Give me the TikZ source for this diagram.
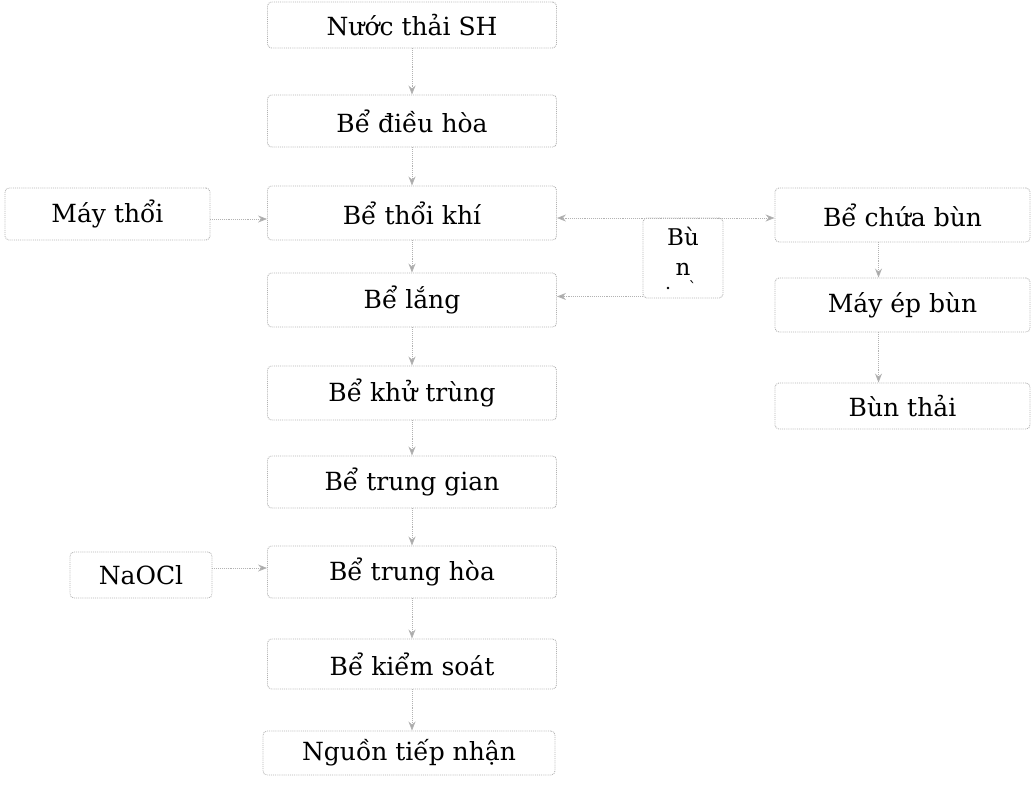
\documentclass[tikz,border=0pt]{standalone}
\usepackage{fontspec}
\setmainfont{DejaVu Serif}
\usetikzlibrary{arrows.meta}
\begin{document}
\begin{tikzpicture}[x=1pt,y=-1pt,
  box/.style={draw=gray!60, densely dotted, line width=0.9pt, rounded corners=4pt,
    inner sep=0pt, text=black, font=\fontsize{25}{30}\selectfont},
  mainbox/.style={box, minimum width=289pt},
  sidebox/.style={box, minimum width=255pt},
  arr/.style={draw=gray!60, densely dotted, line width=0.9pt,
    -{Stealth[length=9pt,width=7pt,fill=gray!70]}},
  barr/.style={draw=gray!60, densely dotted, line width=0.9pt,
    {Stealth[length=9pt,width=7pt,fill=gray!70]}-{Stealth[length=9pt,width=7pt,fill=gray!70]}}
]
\useasboundingbox (0,0) rectangle (1035,787);
% main column
\node[mainbox, minimum height=46pt] (n1) at (412,25) {Nước thải SH};
\node[mainbox, minimum height=52pt] (n2) at (412,121) {Bể điều hòa};
\node[mainbox, minimum height=54pt] (n3) at (412,213) {Bể thổi khí};
\node[mainbox, minimum height=54pt] (n4) at (412,300) {Bể lắng};
\node[mainbox, minimum height=54pt] (n5) at (412,393) {Bể khử trùng};
\node[mainbox, minimum height=52pt] (n6) at (412,482) {Bể trung gian};
\node[mainbox, minimum height=52pt] (n7) at (412,572) {Bể trung hòa};
\node[mainbox, minimum height=50pt] (n8) at (412,664) {Bể kiểm soát};
\node[mainbox, minimum width=292pt, minimum height=44pt] (n9) at (409,753) {Nguồn tiếp nhận};
% left
\node[box, minimum width=205pt, minimum height=52pt] (m) at (107.5,214) {Máy thổi};
\node[box, minimum width=142pt, minimum height=46pt] (na) at (141,575) {NaOCl};
% right
\node[sidebox, minimum height=54pt] (c) at (902.5,215) {Bể chứa bùn};
\node[sidebox, minimum height=54pt] (e) at (902.5,305) {Máy ép bùn};
\node[sidebox, minimum height=46pt] (t) at (902.5,406) {Bùn thải};
% sludge box
\node[box, minimum width=80pt, minimum height=80pt] (b) at (683,258) {};
\node[font=\fontsize{23}{26}\selectfont, inner sep=0pt, anchor=base] (bt1) at (683,245) {Bù};
\node[font=\fontsize{23}{26}\selectfont, inner sep=0pt, anchor=base] (bt2) at (683,275) {n};
\fill (668,288) circle (1.3pt);
\node[font=\fontsize{16}{18}\selectfont, inner sep=0pt] (bt3) at (694,287) {\`{}};
% connectors main chain
\foreach \a/\bb in {n1/n2,n2/n3,n3/n4,n4/n5,n5/n6,n6/n7,n7/n8}
  \draw[arr] (\a.south) -- (\bb.north);
\draw[arr] (n8.south) -- (n8.south |- n9.north);
\draw[arr] ([yshift=-5pt]m.east) -- ([yshift=-6pt]n3.west);
\draw[arr] ([yshift=7pt]na.east) -- ([yshift=4pt]n7.west);
\draw[barr] ([yshift=-5pt]n3.east) -- ([yshift=-3pt]c.west);
\draw[arr] ([yshift=2pt]b.south west) -- ([yshift=2pt]b.south west -| n4.east);
\draw[arr] ([xshift=-24pt]c.south) -- ([xshift=-24pt]e.north);
\draw[arr] ([xshift=-24pt]e.south) -- ([xshift=-24pt]t.north);
\end{tikzpicture}
\end{document}
